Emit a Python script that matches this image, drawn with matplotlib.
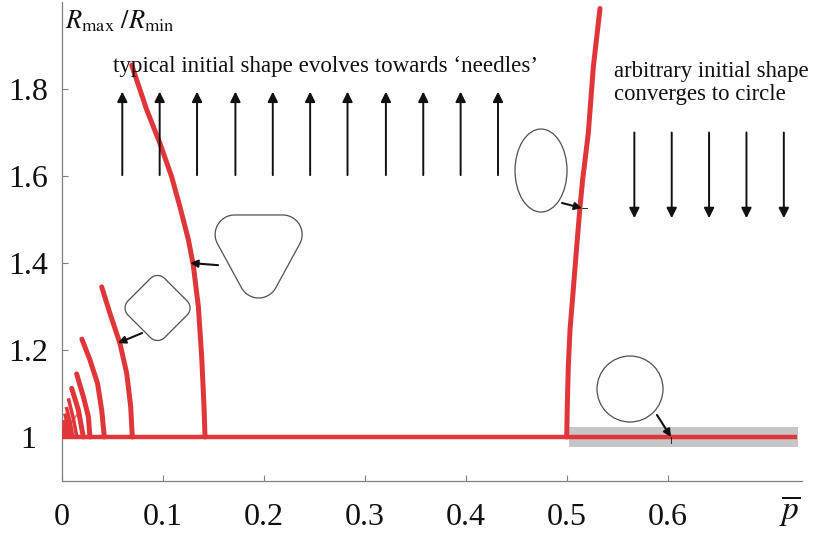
import numpy as np
import matplotlib
matplotlib.use("Agg")
import matplotlib.pyplot as plt
from matplotlib.patches import Polygon, Ellipse, Circle, Rectangle
import matplotlib.transforms as mtransforms

plt.rcParams['font.family'] = ['Liberation Serif', 'DejaVu Serif']
plt.rcParams['mathtext.fontset'] = 'stix'

# ---------------- data ----------------
# main branch R=1
p_flat = [0.0, 0.728]
r_flat = [1.0, 1.0]

# bifurcating branches (needle tendency)
p_br1 = [0.1419, 0.1409, 0.1386, 0.1353, 0.1303, 0.1255, 0.1171, 0.1089, 0.0973, 0.0842, 0.0693]
r_br1 = [1.000, 1.070, 1.185, 1.300, 1.395, 1.453, 1.529, 1.598, 1.675, 1.752, 1.855]

p_br2 = [0.0699, 0.0683, 0.0644, 0.0577, 0.0478, 0.0396]
r_br2 = [1.000, 1.070, 1.146, 1.215, 1.284, 1.345]

p_br3 = [0.0422, 0.0396, 0.0355, 0.028, 0.020]
r_br3 = [1.000, 1.062, 1.123, 1.177, 1.225]

p_br4 = [0.028, 0.0264, 0.0214, 0.0148]
r_br4 = [1.000, 1.047, 1.093, 1.145]

p_br5 = [0.0214, 0.0165, 0.0099]
r_br5 = [1.000, 1.062, 1.112]

# small branches clustered near p=0
p_small_base = [0.015, 0.011, 0.008, 0.005, 0.003]
p_small_top = [0.007, 0.005, 0.0035, 0.002, 0.001]
r_small_top = [1.085, 1.065, 1.050, 1.035, 1.020]

# branch emerging at p=0.5
p_right = [0.5000, 0.5006, 0.5016, 0.5033, 0.5065, 0.5099, 0.5132, 0.5158, 0.5214, 0.5264, 0.5330]
r_right = [1.000, 1.070, 1.162, 1.246, 1.338, 1.437, 1.529, 1.591, 1.698, 1.851, 1.985]

# stable (circle) region
p_band = [0.5024, 0.729]
r_band = [0.977, 1.023]

# evolution arrows
p_up = [0.060, 0.097, 0.134, 0.172, 0.209, 0.246, 0.283, 0.321, 0.358, 0.395, 0.432]
r_up = [1.602, 1.794]
p_down = [0.567, 0.604, 0.641, 0.678, 0.715]
r_down = [1.700, 1.503]

xticks = [0, 0.1, 0.2, 0.3, 0.4, 0.5, 0.6]
xticklabels = ['0', '0.1', '0.2', '0.3', '0.4', '0.5', '0.6']
yticks = [1.0, 1.2, 1.4, 1.6, 1.8]
yticklabels = ['1', '1.2', '1.4', '1.6', '1.8']

# ---------------- figure ----------------
W, H = 813, 536
fig = plt.figure(figsize=(W / 100, H / 100), dpi=100)
ax = fig.add_axes([61.7 / W, (H - 480.5) / H, 740.3 / W, 478.5 / H])
ax.set_xlim(0, 0.733)
ax.set_ylim(0.9, 2.0)

for s in ['top', 'right']:
    ax.spines[s].set_visible(False)
for s in ['left', 'bottom']:
    ax.spines[s].set_color('#808080')
    ax.spines[s].set_linewidth(0.9)

ax.set_xticks(xticks)
ax.set_xticklabels(xticklabels)
ax.set_yticks(yticks)
ax.set_yticklabels(yticklabels)
ax.tick_params(direction='in', length=4, color='#808080', labelsize=23, labelcolor='#111111')
ax.tick_params(axis='x', pad=16)
ax.tick_params(axis='y', pad=24)
for lab in ax.get_yticklabels():
    lab.set_horizontalalignment('center')

red = '#e0363a'

# gray band
ax.add_patch(Rectangle((p_band[0], r_band[0]), p_band[1] - p_band[0], r_band[1] - r_band[0],
                       facecolor='#c6c6c6', edgecolor='none', zorder=1))

ax.plot(p_flat, r_flat, color=red, lw=3.2, solid_capstyle='butt', zorder=3)
for px, ry in [(p_br1, r_br1), (p_br2, r_br2), (p_br3, r_br3), (p_br4, r_br4), (p_br5, r_br5),
               (p_right, r_right)]:
    ax.plot(px, ry, color=red, lw=3.6, solid_capstyle='round', solid_joinstyle='round', zorder=3)
for b, t, rt in zip(p_small_base, p_small_top, r_small_top):
    ax.plot([b, (b + t) / 2 + 0.0005, t], [1.0, (1 + rt) / 2, rt], color=red, lw=2.6, zorder=3)
    ax.plot([0.0, b], [1.0, rt * 0.6 + 0.4], color=red, lw=1.2, alpha=0.7, zorder=3)

# evolution arrows
ap = dict(arrowstyle='-|>', color='#111111', lw=1.4, mutation_scale=15, shrinkA=0, shrinkB=0)
for x in p_up:
    ax.annotate('', xy=(x, r_up[1]), xytext=(x, r_up[0]), arrowprops=ap, zorder=4)
for x in p_down:
    ax.annotate('', xy=(x, r_down[1]), xytext=(x, r_down[0]), arrowprops=ap, zorder=4)

# shapes (drawn in pixel units around a data-anchored centre)
def rounded_poly(verts, rc, n=24):
    verts = np.asarray(verts, float)
    pts = []
    N = len(verts)
    for i in range(N):
        p0, p, p1 = verts[i - 1], verts[i], verts[(i + 1) % N]
        e0, e1 = p - p0, p1 - p
        a0 = np.arctan2(-e0[0], e0[1])
        a1 = np.arctan2(-e1[0], e1[1])
        if a1 < a0:
            a1 += 2 * np.pi
        t = np.linspace(a0, a1, n)
        pts.append(p + rc * np.column_stack([np.cos(t), np.sin(t)]))
    return np.vstack(pts)

def px_trans(cx, cy):
    return mtransforms.Affine2D() + mtransforms.ScaledTranslation(cx, cy, ax.transData)

shape_kw = dict(fill=False, edgecolor='#505050', lw=0.9, zorder=5)
d = 22.5
ax.add_patch(Polygon(rounded_poly([(0, -d), (d, 0), (0, d), (-d, 0)], 10.0), closed=True,
                     transform=px_trans(0.0949, 1.2966), **shape_kw))
ax.add_patch(Polygon(rounded_poly([(0, -22), (24, 22), (-24, 22)], 19.5), closed=True,
                     transform=px_trans(0.1950, 1.4150), **shape_kw))
ax.add_patch(Ellipse((0, 0), 52, 83, transform=px_trans(0.4746, 1.6126), **shape_kw))
ax.add_patch(Circle((0, 0), 33, transform=px_trans(0.5627, 1.1103), **shape_kw))

# pointer arrows from shapes to branches
sp = dict(arrowstyle='-|>', color='#111111', lw=1.5, mutation_scale=11, shrinkA=0, shrinkB=0)
ax.annotate('', xy=(0.0557, 1.216), xytext=(0.0796, 1.239), arrowprops=sp, zorder=6)
ax.annotate('', xy=(0.1272, 1.400), xytext=(0.1548, 1.395), arrowprops=sp, zorder=6)
ax.annotate('', xy=(0.5152, 1.526), xytext=(0.4954, 1.538), arrowprops=sp, zorder=6)
ax.plot([0.5152, 0.5200], [1.526, 1.526], color='#111111', lw=0.6, zorder=6)
ax.annotate('', xy=(0.6033, 1.0), xytext=(0.5894, 1.0506), arrowprops=sp, zorder=6)
ax.plot([0.6033, 0.6033], [1.0, 0.986], color='#111111', lw=0.6, zorder=6)

# texts
ax.text(0.0508, 1.839, 'typical initial shape evolves towards \u2018needles\u2019', fontsize=16.6,
        va='baseline', ha='left', color='#111111')
ax.text(0.547, 1.828, 'arbitrary initial shape', fontsize=16.4, va='baseline', ha='left', color='#111111')
ax.text(0.547, 1.775, 'converges to circle', fontsize=16.4, va='baseline', ha='left', color='#111111')
ax.text(0.0033, 1.940, r'$R_{\rm max}\ /R_{\rm min}$', fontsize=19, va='baseline', ha='left',
        color='#111111', clip_on=False)
ax.text(0.7211, 0.832, r'$\overline{p}$', fontsize=24, va='center', ha='center',
        color='#111111', clip_on=False)

fig.savefig('out.png', dpi=100)
